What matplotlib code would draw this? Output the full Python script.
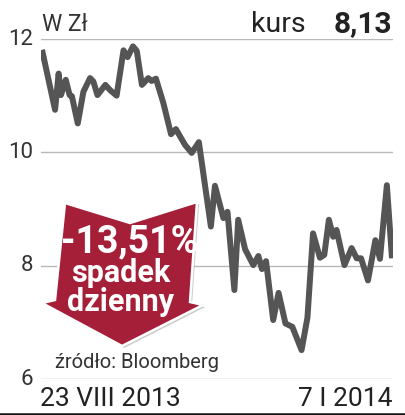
import matplotlib
matplotlib.use("Agg")
import matplotlib.pyplot as plt
from matplotlib.patches import Polygon
from matplotlib.transforms import Affine2D
import matplotlib.patheffects as pe

# ---- data ----
days = [0, 5.1, 6.5, 7.4, 9.3, 10.8, 11.7, 14.0, 16.2, 18.8, 20.1, 21.7, 24.8, 26.6,
        29.2, 31.9, 33.5, 35.6, 37.1, 39.1, 41.6, 42.9, 44.6, 47.5, 50.5, 52.4, 56.0,
        58.6, 61.4, 66.1, 67.7, 71.0, 72.6, 75.3, 76.8, 79.5, 82.7, 84.7, 86.1, 87.7,
        90.5, 92.6, 95.3, 98.0, 101.6, 103.9, 106.1, 108.8, 110.5, 112.3, 114.0, 115.3,
        118.4, 121.2, 123.2, 124.9, 127.6, 130.5, 132.3, 135.0, 137.0]
price = [11.81, 10.75, 11.39, 11.01, 11.28, 11.01, 10.99, 10.51, 11.07, 11.31, 11.25,
         11.01, 11.19, 11.10, 11.00, 11.80, 11.68, 11.87, 11.79, 11.19, 11.31, 11.26,
         11.30, 10.87, 10.32, 10.41, 10.13, 9.99, 10.18, 8.69, 9.41, 8.84, 8.95, 7.57,
         8.81, 8.29, 8.01, 8.17, 7.94, 8.08, 7.04, 7.52, 6.98, 6.92, 6.51, 7.08, 8.57,
         8.14, 8.19, 8.81, 8.51, 8.63, 8.01, 8.31, 8.13, 8.13, 7.74, 8.45, 8.12, 9.42,
         8.13]
yticks = [12, 10, 8, 6]
ytick_labels = ["12", "10", "8", "6"]
date_start = "23 VIII 2013"
date_end = "7 I 2014"
unit_label = "W Zł"
kurs_label = "kurs"
kurs_value = "8,13"
change_label = "-13,51%"
change_desc = "spadek\ndzienny"
source = "źródło: Bloomberg"

FONT = ["Roboto", "DejaVu Sans"]
W, H = 405, 415
fig = plt.figure(figsize=(W / 100, H / 100), dpi=100)
fig.patch.set_facecolor("white")
px = Affine2D().scale(1 / W, -1 / H).translate(0, 1) + fig.transFigure

ax = fig.add_axes([41 / W, (H - 379) / H, (393 - 41) / W, (379 - 39) / H])
ax.set_xlim(-0.4, 137.4)
ax.set_ylim(6, 12)
ax.axis("off")
for v in yticks:
    ax.axhline(v, color="#b8b8b8", lw=1.0, zorder=1)
ax.plot(days, price, color="#555555", lw=4.3, solid_joinstyle="round",
        solid_capstyle="butt", zorder=3)

for v, lab in zip(yticks, ytick_labels):
    ax.text(-0.022, v, lab, transform=ax.get_yaxis_transform(), ha="right",
            va="center", fontsize=16, color="#333333", family=FONT)

# header
fig.text(42 / W, 1 - 31 / H, unit_label, fontsize=16.5, color="#333333", family=FONT,
         ha="left", va="baseline")
fig.text(306 / W, 1 - 32 / H, kurs_label, fontsize=20.5, color="#222222", family=FONT,
         ha="right", va="baseline")
fig.text(392 / W, 1 - 32 / H, kurs_value, fontsize=21.5, color="#222222", family=FONT,
         fontweight="bold", ha="right", va="baseline")

# footer
fig.text(40 / W, 1 - 406 / H, date_start, fontsize=19, color="#222222", family=FONT,
         ha="left", va="baseline")
fig.text(392 / W, 1 - 406 / H, date_end, fontsize=19, color="#222222", family=FONT,
         ha="right", va="baseline")
fig.add_artist(plt.Line2D([0, 1], [1 - 413.5 / H] * 2, color="#111111", lw=1.8,
                          transform=fig.transFigure))

fig.text(55 / W, 1 - 368 / H, source, fontsize=14.5, color="#333333", family=FONT,
         ha="left", va="baseline")

# badge
badge_pts = [(65, 203), (130, 223), (197, 202), (190, 302), (203, 305), (122, 346),
             (42, 303), (55, 300)]
badge = Polygon(badge_pts, closed=True, transform=px, facecolor="#a51f38",
                edgecolor="white", lw=1.8, zorder=5,
                path_effects=[pe.SimplePatchShadow(offset=(1.5, -1.5), shadow_rgbFace="#999999", alpha=0.5),
                              pe.Normal()])
fig.add_artist(badge)
fig.text(130 / W, 1 - 252 / H, change_label, fontsize=27, color="white", family=FONT,
         fontweight="bold", ha="center", va="baseline", zorder=6)
fig.text(121 / W, 1 - 311 / H, change_desc, fontsize=22, color="white", family=FONT,
         fontweight="bold", ha="center", va="baseline", zorder=6,
         linespacing=0.95, multialignment="center")

fig.savefig("out.png", dpi=100)
